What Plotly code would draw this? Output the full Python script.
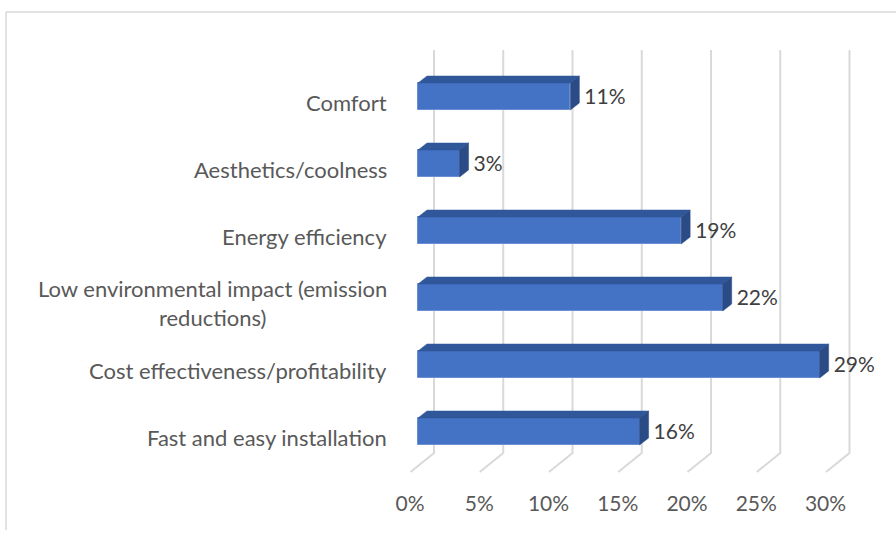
import plotly.graph_objects as go

# Survey results: share of respondents naming each factor as most important
categories = [
    "Fast and easy installation",
    "Cost effectiveness/profitability",
    "Low environmental impact (emission<br>reductions)",
    "Energy efficiency",
    "Aesthetics/coolness",
    "Comfort",
]
values = [16, 29, 22, 19, 3, 11]
tick_values = [0, 5, 10, 15, 20, 25, 30]

W, H = 896, 534
PX_PER_PCT = 13.85          # horizontal pixels per percentage point
PX_PER_CAT = 67.0           # vertical pixels between categories
X0_PX, Y0_PX = 418.0, 431.5  # front face origin of the bottom bar

x_lo = -X0_PX / PX_PER_PCT
x_hi = (W - X0_PX) / PX_PER_PCT
y_lo = (Y0_PX - H) / PX_PER_CAT
y_hi = Y0_PX / PX_PER_CAT

def px_x(p):   # pixel offset -> x data units
    return p / PX_PER_PCT

def px_y(p):   # pixel offset -> y data units (upward)
    return p / PX_PER_CAT

ypos = list(range(len(categories)))
bar_h = px_y(27)
depth_dx, depth_dy = px_x(9), px_y(7)

FRONT = "#4472C4"
TOP = "#30579A"
SIDE = "#2A4B85"
GRID = "#D9D9D9"
FONT = "Lato"

fig = go.Figure()

# Back wall and floor gridlines (3-D perspective), kept beneath the bars
back_shift = px_x(16)
g_top = px_y(Y0_PX - 50)
g_bot = px_y(Y0_PX - 453)
g_front = px_y(Y0_PX - 472)
for t in tick_values:
    xb = t + back_shift
    fig.add_shape(type="path", xref="x", yref="y", layer="below",
                  path=f"M {xb},{g_top} L {xb},{g_bot} L {xb - px_x(23.5)},{g_front}",
                  line=dict(color=GRID, width=2))

# Front faces of the bars
fig.add_trace(go.Bar(
    x=values, y=ypos, base=0, orientation="h", width=bar_h,
    marker=dict(color=FRONT, line=dict(color="#6B8FD2", width=1)),
    showlegend=False, hoverinfo="skip",
))

# Top and side faces
for v, c in zip(values, ypos):
    t = c + bar_h / 2
    b = c - bar_h / 2
    fig.add_trace(go.Scatter(
        x=[0, depth_dx, v + depth_dx, v, 0],
        y=[t, t + depth_dy, t + depth_dy, t, t],
        fill="toself", fillcolor=TOP, mode="lines",
        line=dict(color=TOP, width=0.5),
        hoverinfo="skip", showlegend=False))
    fig.add_trace(go.Scatter(
        x=[v, v + depth_dx, v + depth_dx, v, v],
        y=[t, t + depth_dy, b + depth_dy, b, t],
        fill="toself", fillcolor=SIDE, mode="lines",
        line=dict(color=SIDE, width=0.5),
        hoverinfo="skip", showlegend=False))

# Value labels
fig.add_trace(go.Scatter(
    x=[v + depth_dx + px_x(5) for v in values], y=[c - px_y(2) for c in ypos],
    mode="text", text=[f"{v}%" for v in values],
    textposition="middle right",
    textfont=dict(family=FONT, size=21, color="#404040"),
    hoverinfo="skip", showlegend=False))

# Category labels
for cat, c in zip(categories, ypos):
    fig.add_annotation(
        x=389 / W, xref="paper", y=c - px_y(5.5), yref="y",
        text=cat, showarrow=False, xanchor="right", yanchor="middle",
        align="center",
        font=dict(family=FONT, size=22, color="#595959"))

# Chart area border (top and left edges)
fig.add_shape(type="line", xref="paper", yref="paper",
              x0=6 / W, x1=1.01, y0=(H - 12) / H, y1=(H - 12) / H,
              line=dict(color="#D9D9D9", width=1.5))
fig.add_shape(type="line", xref="paper", yref="paper",
              x0=6 / W, x1=6 / W, y0=(H - 12) / H, y1=(H - 530) / H,
              line=dict(color="#D9D9D9", width=1.5))

# Percentage ticks sit on the front edge of the floor, 8 px left of the bar fronts
floor_shift = px_x(8)
fig.update_layout(
    width=W, height=H, autosize=False,
    margin=dict(l=0, r=0, t=0, b=0),
    plot_bgcolor="white", paper_bgcolor="white",
    xaxis=dict(
        range=[x_lo, x_hi], fixedrange=True,
        anchor="free", position=(H - 489) / H, side="bottom",
        tickvals=[t - floor_shift for t in tick_values],
        ticktext=[f"{t}%" for t in tick_values],
        showgrid=False, zeroline=False, showline=False, ticks="",
        tickfont=dict(family=FONT, size=21, color="#595959"),
    ),
    yaxis=dict(range=[y_lo, y_hi], visible=False, fixedrange=True),
    bargap=0,
)

fig.write_html("out.html")
